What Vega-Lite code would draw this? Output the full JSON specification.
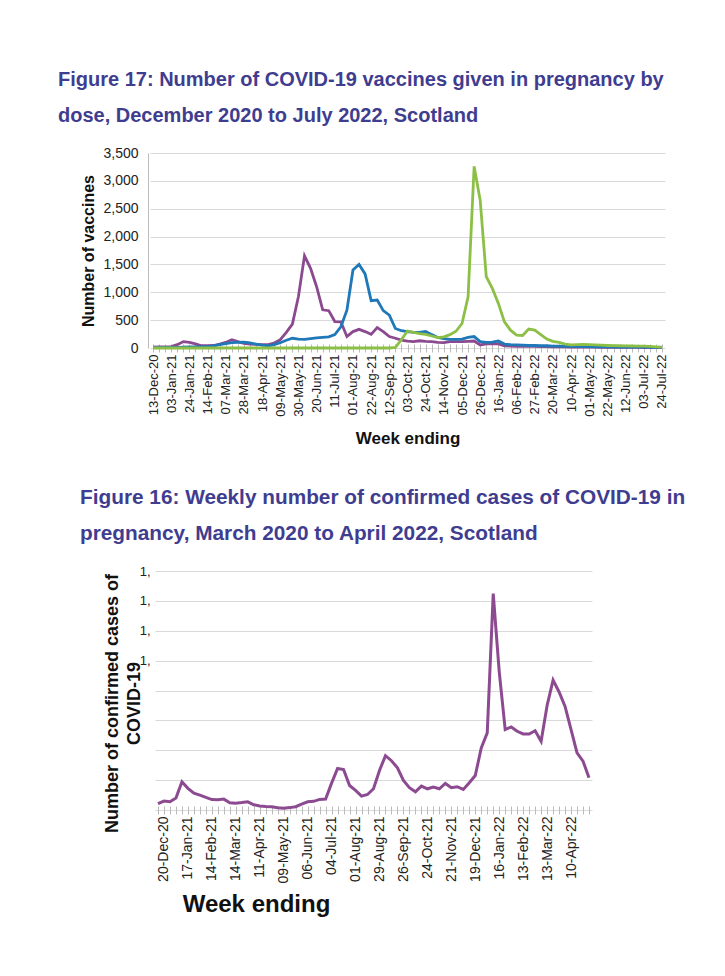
{
  "$schema": "https://vega.github.io/schema/vega-lite/v6.json",
  "background": "white",
  "padding": {"left": 58, "top": 70, "right": 10, "bottom": 10},
  "spacing": 40,
  "config": {
    "view": {"stroke": null},
    "font": "Liberation Sans",
    "axis": {"gridColor": "#d9d9d9", "gridWidth": 1}
  },
  "datasets": {
    "vaccines": [
      {"week": "13-Dec-20", "dose1": 15, "dose2": 5, "dose3": 0},
      {"week": "20-Dec-20", "dose1": 18, "dose2": 5, "dose3": 0},
      {"week": "27-Dec-20", "dose1": 20, "dose2": 8, "dose3": 0},
      {"week": "03-Jan-21", "dose1": 25, "dose2": 10, "dose3": 0},
      {"week": "10-Jan-21", "dose1": 60, "dose2": 12, "dose3": 0},
      {"week": "17-Jan-21", "dose1": 115, "dose2": 15, "dose3": 0},
      {"week": "24-Jan-21", "dose1": 100, "dose2": 18, "dose3": 0},
      {"week": "31-Jan-21", "dose1": 75, "dose2": 20, "dose3": 0},
      {"week": "07-Feb-21", "dose1": 40, "dose2": 22, "dose3": 0},
      {"week": "14-Feb-21", "dose1": 40, "dose2": 25, "dose3": 0},
      {"week": "21-Feb-21", "dose1": 45, "dose2": 40, "dose3": 0},
      {"week": "28-Feb-21", "dose1": 70, "dose2": 60, "dose3": 0},
      {"week": "07-Mar-21", "dose1": 100, "dose2": 80, "dose3": 0},
      {"week": "14-Mar-21", "dose1": 150, "dose2": 95, "dose3": 0},
      {"week": "21-Mar-21", "dose1": 115, "dose2": 100, "dose3": 0},
      {"week": "28-Mar-21", "dose1": 85, "dose2": 105, "dose3": 0},
      {"week": "04-Apr-21", "dose1": 70, "dose2": 90, "dose3": 0},
      {"week": "11-Apr-21", "dose1": 65, "dose2": 70, "dose3": 0},
      {"week": "18-Apr-21", "dose1": 62, "dose2": 50, "dose3": 0},
      {"week": "25-Apr-21", "dose1": 60, "dose2": 40, "dose3": 0},
      {"week": "02-May-21", "dose1": 90, "dose2": 60, "dose3": 0},
      {"week": "09-May-21", "dose1": 150, "dose2": 95, "dose3": 0},
      {"week": "16-May-21", "dose1": 280, "dose2": 140, "dose3": 0},
      {"week": "23-May-21", "dose1": 430, "dose2": 175, "dose3": 0},
      {"week": "30-May-21", "dose1": 925, "dose2": 160, "dose3": 0},
      {"week": "06-Jun-21", "dose1": 1655, "dose2": 155, "dose3": 0},
      {"week": "13-Jun-21", "dose1": 1430, "dose2": 170, "dose3": 0},
      {"week": "20-Jun-21", "dose1": 1100, "dose2": 180, "dose3": 0},
      {"week": "27-Jun-21", "dose1": 685, "dose2": 190, "dose3": 0},
      {"week": "04-Jul-21", "dose1": 670, "dose2": 200, "dose3": 0},
      {"week": "11-Jul-21", "dose1": 475, "dose2": 240, "dose3": 0},
      {"week": "18-Jul-21", "dose1": 470, "dose2": 380, "dose3": 0},
      {"week": "25-Jul-21", "dose1": 205, "dose2": 680, "dose3": 0},
      {"week": "01-Aug-21", "dose1": 295, "dose2": 1400, "dose3": 0},
      {"week": "08-Aug-21", "dose1": 335, "dose2": 1500, "dose3": 0},
      {"week": "15-Aug-21", "dose1": 295, "dose2": 1330, "dose3": 0},
      {"week": "22-Aug-21", "dose1": 245, "dose2": 850, "dose3": 0},
      {"week": "29-Aug-21", "dose1": 365, "dose2": 860, "dose3": 0},
      {"week": "05-Sep-21", "dose1": 295, "dose2": 670, "dose3": 0},
      {"week": "12-Sep-21", "dose1": 205, "dose2": 590, "dose3": 0},
      {"week": "19-Sep-21", "dose1": 175, "dose2": 350, "dose3": 10},
      {"week": "26-Sep-21", "dose1": 140, "dose2": 310, "dose3": 150},
      {"week": "03-Oct-21", "dose1": 125, "dose2": 295, "dose3": 305},
      {"week": "10-Oct-21", "dose1": 115, "dose2": 280, "dose3": 280},
      {"week": "17-Oct-21", "dose1": 130, "dose2": 280, "dose3": 260},
      {"week": "24-Oct-21", "dose1": 120, "dose2": 295, "dose3": 245},
      {"week": "31-Oct-21", "dose1": 115, "dose2": 240, "dose3": 215},
      {"week": "07-Nov-21", "dose1": 100, "dose2": 190, "dose3": 185},
      {"week": "14-Nov-21", "dose1": 95, "dose2": 170, "dose3": 200},
      {"week": "21-Nov-21", "dose1": 115, "dose2": 155, "dose3": 240},
      {"week": "28-Nov-21", "dose1": 115, "dose2": 155, "dose3": 300},
      {"week": "05-Dec-21", "dose1": 115, "dose2": 160, "dose3": 440},
      {"week": "12-Dec-21", "dose1": 120, "dose2": 190, "dose3": 920},
      {"week": "19-Dec-21", "dose1": 125, "dose2": 205, "dose3": 3260},
      {"week": "26-Dec-21", "dose1": 55, "dose2": 115, "dose3": 2650},
      {"week": "02-Jan-22", "dose1": 75, "dose2": 100, "dose3": 1280},
      {"week": "09-Jan-22", "dose1": 75, "dose2": 105, "dose3": 1070},
      {"week": "16-Jan-22", "dose1": 75, "dose2": 125, "dose3": 800},
      {"week": "23-Jan-22", "dose1": 40, "dose2": 70, "dose3": 470},
      {"week": "30-Jan-22", "dose1": 35, "dose2": 60, "dose3": 320},
      {"week": "06-Feb-22", "dose1": 30, "dose2": 55, "dose3": 230},
      {"week": "13-Feb-22", "dose1": 30, "dose2": 50, "dose3": 225},
      {"week": "20-Feb-22", "dose1": 30, "dose2": 45, "dose3": 340},
      {"week": "27-Feb-22", "dose1": 28, "dose2": 45, "dose3": 320},
      {"week": "06-Mar-22", "dose1": 25, "dose2": 40, "dose3": 240},
      {"week": "13-Mar-22", "dose1": 25, "dose2": 40, "dose3": 160},
      {"week": "20-Mar-22", "dose1": 22, "dose2": 35, "dose3": 120},
      {"week": "27-Mar-22", "dose1": 20, "dose2": 35, "dose3": 100},
      {"week": "03-Apr-22", "dose1": 20, "dose2": 30, "dose3": 70},
      {"week": "10-Apr-22", "dose1": 18, "dose2": 30, "dose3": 55},
      {"week": "17-Apr-22", "dose1": 18, "dose2": 28, "dose3": 60},
      {"week": "24-Apr-22", "dose1": 15, "dose2": 25, "dose3": 65},
      {"week": "01-May-22", "dose1": 15, "dose2": 25, "dose3": 60},
      {"week": "08-May-22", "dose1": 15, "dose2": 22, "dose3": 55},
      {"week": "15-May-22", "dose1": 12, "dose2": 22, "dose3": 50},
      {"week": "22-May-22", "dose1": 12, "dose2": 20, "dose3": 45},
      {"week": "29-May-22", "dose1": 12, "dose2": 20, "dose3": 42},
      {"week": "05-Jun-22", "dose1": 10, "dose2": 18, "dose3": 40},
      {"week": "12-Jun-22", "dose1": 10, "dose2": 18, "dose3": 38},
      {"week": "19-Jun-22", "dose1": 10, "dose2": 15, "dose3": 36},
      {"week": "26-Jun-22", "dose1": 10, "dose2": 15, "dose3": 35},
      {"week": "03-Jul-22", "dose1": 8, "dose2": 15, "dose3": 32},
      {"week": "10-Jul-22", "dose1": 8, "dose2": 12, "dose3": 28},
      {"week": "17-Jul-22", "dose1": 8, "dose2": 12, "dose3": 22},
      {"week": "24-Jul-22", "dose1": 8, "dose2": 10, "dose3": 15}
    ],
    "cases": [
      {"week": "13-Dec-20", "cases": 42},
      {"week": "20-Dec-20", "cases": 60},
      {"week": "27-Dec-20", "cases": 55},
      {"week": "03-Jan-21", "cases": 80},
      {"week": "10-Jan-21", "cases": 189},
      {"week": "17-Jan-21", "cases": 145},
      {"week": "24-Jan-21", "cases": 112},
      {"week": "31-Jan-21", "cases": 100},
      {"week": "07-Feb-21", "cases": 85},
      {"week": "14-Feb-21", "cases": 70},
      {"week": "21-Feb-21", "cases": 68},
      {"week": "28-Feb-21", "cases": 73},
      {"week": "07-Mar-21", "cases": 49},
      {"week": "14-Mar-21", "cases": 46},
      {"week": "21-Mar-21", "cases": 50},
      {"week": "28-Mar-21", "cases": 55},
      {"week": "04-Apr-21", "cases": 35},
      {"week": "11-Apr-21", "cases": 27},
      {"week": "18-Apr-21", "cases": 23},
      {"week": "25-Apr-21", "cases": 22},
      {"week": "02-May-21", "cases": 15},
      {"week": "09-May-21", "cases": 11},
      {"week": "16-May-21", "cases": 16},
      {"week": "23-May-21", "cases": 22},
      {"week": "30-May-21", "cases": 40},
      {"week": "06-Jun-21", "cases": 55},
      {"week": "13-Jun-21", "cases": 58},
      {"week": "20-Jun-21", "cases": 71},
      {"week": "27-Jun-21", "cases": 73},
      {"week": "04-Jul-21", "cases": 180},
      {"week": "11-Jul-21", "cases": 278},
      {"week": "18-Jul-21", "cases": 271},
      {"week": "25-Jul-21", "cases": 164},
      {"week": "01-Aug-21", "cases": 131},
      {"week": "08-Aug-21", "cases": 93},
      {"week": "15-Aug-21", "cases": 104},
      {"week": "22-Aug-21", "cases": 142},
      {"week": "29-Aug-21", "cases": 264},
      {"week": "05-Sep-21", "cases": 364},
      {"week": "12-Sep-21", "cases": 330},
      {"week": "19-Sep-21", "cases": 282},
      {"week": "26-Sep-21", "cases": 198},
      {"week": "03-Oct-21", "cases": 149},
      {"week": "10-Oct-21", "cases": 122},
      {"week": "17-Oct-21", "cases": 160},
      {"week": "24-Oct-21", "cases": 142},
      {"week": "31-Oct-21", "cases": 153},
      {"week": "07-Nov-21", "cases": 142},
      {"week": "14-Nov-21", "cases": 178},
      {"week": "21-Nov-21", "cases": 149},
      {"week": "28-Nov-21", "cases": 156},
      {"week": "05-Dec-21", "cases": 138},
      {"week": "12-Dec-21", "cases": 182},
      {"week": "19-Dec-21", "cases": 231},
      {"week": "26-Dec-21", "cases": 415},
      {"week": "02-Jan-22", "cases": 516},
      {"week": "09-Jan-22", "cases": 1449},
      {"week": "16-Jan-22", "cases": 927},
      {"week": "23-Jan-22", "cases": 538},
      {"week": "30-Jan-22", "cases": 556},
      {"week": "06-Feb-22", "cases": 527},
      {"week": "13-Feb-22", "cases": 509},
      {"week": "20-Feb-22", "cases": 509},
      {"week": "27-Feb-22", "cases": 531},
      {"week": "06-Mar-22", "cases": 460},
      {"week": "13-Mar-22", "cases": 700},
      {"week": "20-Mar-22", "cases": 870},
      {"week": "27-Mar-22", "cases": 790},
      {"week": "03-Apr-22", "cases": 693},
      {"week": "10-Apr-22", "cases": 538},
      {"week": "17-Apr-22", "cases": 382},
      {"week": "24-Apr-22", "cases": 327},
      {"week": "01-May-22", "cases": 216}
    ]
  },
  "vconcat": [
    {
      "width": 520,
      "height": 195,
      "title": {
        "text": ["Figure 17: Number of COVID-19 vaccines given in pregnancy by", "dose, December 2020 to July 2022, Scotland"],
        "anchor": "start",
        "frame": "group",
        "dx": -90,
        "fontSize": 20,
        "fontWeight": "bold",
        "color": "#3f3d8f",
        "lineHeight": 36,
        "offset": 20
      },
      "data": {"name": "vaccines"},
      "transform": [{"fold": ["dose1", "dose2", "dose3"], "as": ["dose", "n"]}],
      "mark": {"type": "line", "strokeWidth": 2.8},
      "encoding": {
        "x": {
          "field": "week",
          "type": "ordinal",
          "sort": null,
          "scale": {"type": "point", "range": [2, 517]},
          "axis": {
            "title": "Week ending",
            "titleFontSize": 17,
            "titleFontWeight": "bold",
            "titleColor": "#111111",
            "titlePadding": 14,
            "labelAngle": -90,
            "labelFontSize": 13,
            "labelColor": "#222222",
            "labelOverlap": false,
            "labelPadding": 2,
            "labelExpr": "indexof(['13-Dec-20','03-Jan-21','24-Jan-21','14-Feb-21','07-Mar-21','28-Mar-21','18-Apr-21','09-May-21','30-May-21','20-Jun-21','11-Jul-21','01-Aug-21','22-Aug-21','12-Sep-21','03-Oct-21','24-Oct-21','14-Nov-21','05-Dec-21','26-Dec-21','16-Jan-22','06-Feb-22','27-Feb-22','20-Mar-22','10-Apr-22','01-May-22','22-May-22','12-Jun-22','03-Jul-22','24-Jul-22'], datum.value) >= 0 ? datum.value : ''",
            "domain": false,
            "ticks": true,
            "tickSize": 8,
            "tickColor": "#bbbbbb",
            "offset": -4,
            "grid": false
          }
        },
        "y": {
          "field": "n",
          "type": "quantitative",
          "scale": {"domain": [0, 3500]},
          "axis": {
            "title": "Number of vaccines",
            "titleFontSize": 16,
            "titleFontWeight": "bold",
            "titleColor": "#111111",
            "titlePadding": 6,
            "values": [0, 500, 1000, 1500, 2000, 2500, 3000, 3500],
            "format": ",d",
            "labelFontSize": 14,
            "labelColor": "#222222",
            "ticks": false,
            "labelPadding": 10,
            "domain": true,
            "domainColor": "#bbbbbb"
          }
        },
        "color": {
          "field": "dose",
          "type": "nominal",
          "scale": {"domain": ["dose1", "dose2", "dose3"], "range": ["#8b4a8f", "#1f78b8", "#8cbf45"]},
          "legend": null
        }
      }
    },
    {
      "width": 447,
      "height": 239,
      "title": {
        "text": ["Figure 16: Weekly number of confirmed cases of COVID-19 in", "pregnancy, March 2020 to April 2022, Scotland"],
        "anchor": "start",
        "frame": "group",
        "dx": -68,
        "fontSize": 20.8,
        "fontWeight": "bold",
        "color": "#3f3d8f",
        "lineHeight": 36,
        "offset": 20
      },
      "data": {"name": "cases"},
      "mark": {"type": "line", "strokeWidth": 3, "color": "#8c4b91"},
      "encoding": {
        "x": {
          "field": "week",
          "type": "ordinal",
          "sort": null,
          "scale": {"type": "point", "range": [7, 444]},
          "axis": {
            "title": "Week ending",
            "titleFontSize": 24,
            "titleFontWeight": "bold",
            "titleColor": "#111111",
            "titleX": 108,
            "titleAlign": "center",
            "titlePadding": 10,
            "labelAngle": -90,
            "labelFontSize": 14,
            "labelColor": "#222222",
            "labelOverlap": false,
            "labelPadding": 2,
            "labelExpr": "indexof(['20-Dec-20','17-Jan-21','14-Feb-21','14-Mar-21','11-Apr-21','09-May-21','06-Jun-21','04-Jul-21','01-Aug-21','29-Aug-21','26-Sep-21','24-Oct-21','21-Nov-21','19-Dec-21','16-Jan-22','13-Feb-22','13-Mar-22','10-Apr-22'], datum.value) >= 0 ? datum.value : ''",
            "domain": false,
            "ticks": true,
            "tickSize": 8,
            "tickColor": "#bbbbbb",
            "offset": -4,
            "grid": false
          }
        },
        "y": {
          "field": "cases",
          "type": "quantitative",
          "scale": {"domain": [0, 1600]},
          "axis": {
            "title": ["Number of confirmed cases of", "COVID-19"],
            "titleFontSize": 18,
            "titleFontWeight": "bold",
            "titleColor": "#111111",
            "titleLineHeight": 22,
            "titlePadding": -4,
            "titleY": 132,
            "values": [0, 200, 400, 600, 800, 1000, 1200, 1400, 1600],
            "labelExpr": "datum.value >= 1000 ? '1,' : ''",
            "labelFontSize": 13,
            "labelColor": "#222222",
            "ticks": false,
            "labelPadding": -2,
            "domain": false
          }
        }
      }
    }
  ]
}
